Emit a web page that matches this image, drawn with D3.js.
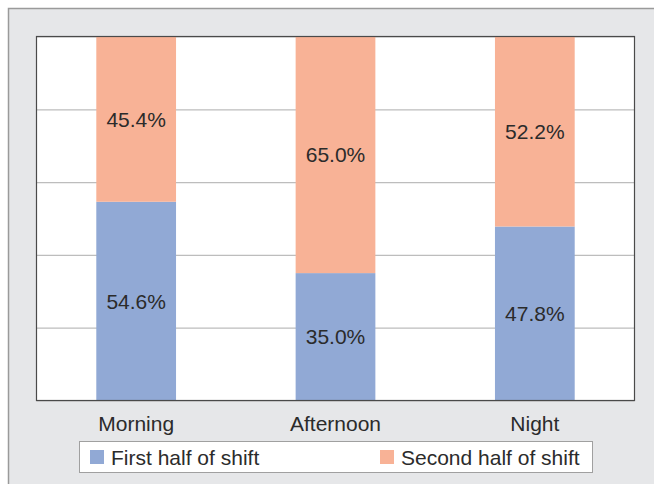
<!DOCTYPE html>
<html><head><meta charset="utf-8">
<script src="https://cdn.jsdelivr.net/npm/d3@7"></script>
<style>body{margin:0;background:#fff;} svg{display:block;font-family:"Liberation Sans",Arial,sans-serif;}</style>
</head><body>
<svg id="c" width="654" height="484"></svg>
<script>
const categories = ["Morning", "Afternoon", "Night"];
const firstHalf = [54.6, 35.0, 47.8];
const secondHalf = [45.4, 65.0, 52.2];
const seriesNames = ["First half of shift", "Second half of shift"];
const yTicks = [0, 20, 40, 60, 80, 100];
const colors = ["#91a9d5", "#f8b296"];

const svg = d3.select("#c");
svg.append("rect").attr("x", 8.5).attr("y", 8.5).attr("width", 700).attr("height", 600)
  .attr("fill", "#e6e7e9").attr("stroke", "#9a9a9a").attr("stroke-width", 1.5);

const m = {l: 36.5, t: 36.5, r: 634.5, b: 400.5};
const x = d3.scaleBand().domain(categories).range([m.l, m.r]).paddingInner(0.6).paddingOuter(0.3);
const y = d3.scaleLinear().domain([0, 100]).range([m.b, m.t]);

svg.append("rect").attr("x", m.l).attr("y", m.t).attr("width", m.r - m.l).attr("height", m.b - m.t)
  .attr("fill", "#fff");

const grid = svg.append("g").attr("transform", `translate(${m.l},0)`)
  .call(d3.axisLeft(y).tickValues(yTicks).tickSize(-(m.r - m.l)).tickFormat(""));
grid.select(".domain").remove();
grid.selectAll("line").attr("stroke", "#bdbdbd").attr("stroke-width", 1.2);

const stackData = categories.map((c, i) => ({cat: c, first: firstHalf[i], second: secondHalf[i]}));
const stack = d3.stack().keys(["first", "second"])(stackData);

stack.forEach((layer, li) => {
  const g = svg.append("g");
  g.selectAll("rect").data(layer).join("rect")
    .attr("x", d => x(d.data.cat))
    .attr("width", x.bandwidth())
    .attr("y", d => y(d[1]))
    .attr("height", d => y(d[0]) - y(d[1]))
    .attr("fill", colors[li]);
  g.selectAll("text").data(layer).join("text")
    .attr("x", d => x(d.data.cat) + x.bandwidth() / 2)
    .attr("y", d => (y(d[0]) + y(d[1])) / 2)
    .attr("dy", "0.36em")
    .attr("text-anchor", "middle")
    .attr("font-size", 21)
    .attr("fill", "#2b2b2b")
    .text(d => (d[1] - d[0]).toFixed(1) + "%");
});

svg.append("rect").attr("x", m.l).attr("y", m.t).attr("width", m.r - m.l).attr("height", m.b - m.t)
  .attr("fill", "none").attr("stroke", "#4a4a4a").attr("stroke-width", 1.2);

const xa = svg.append("g").attr("transform", `translate(0,${m.b})`)
  .call(d3.axisBottom(x).tickSize(0).tickPadding(16));
xa.select(".domain").remove();
xa.selectAll("text").attr("font-size", 21).attr("fill", "#2b2b2b")
  .attr("font-family", "Liberation Sans, Arial, sans-serif");

// legend
const lg = svg.append("g");
lg.append("rect").attr("x", 79.5).attr("y", 441.5).attr("width", 513).attr("height", 31)
  .attr("fill", "#fff").attr("stroke", "#a0a0a0").attr("stroke-width", 1);
const legX = [90, 380];
seriesNames.forEach((n, i) => {
  lg.append("rect").attr("x", legX[i]).attr("y", 450).attr("width", 14).attr("height", 14).attr("fill", colors[i]);
  lg.append("text").attr("x", legX[i] + 21).attr("y", 457.5).attr("dy", "0.36em")
    .attr("font-size", 21).attr("fill", "#2b2b2b").text(n);
});
</script>
</body></html>
